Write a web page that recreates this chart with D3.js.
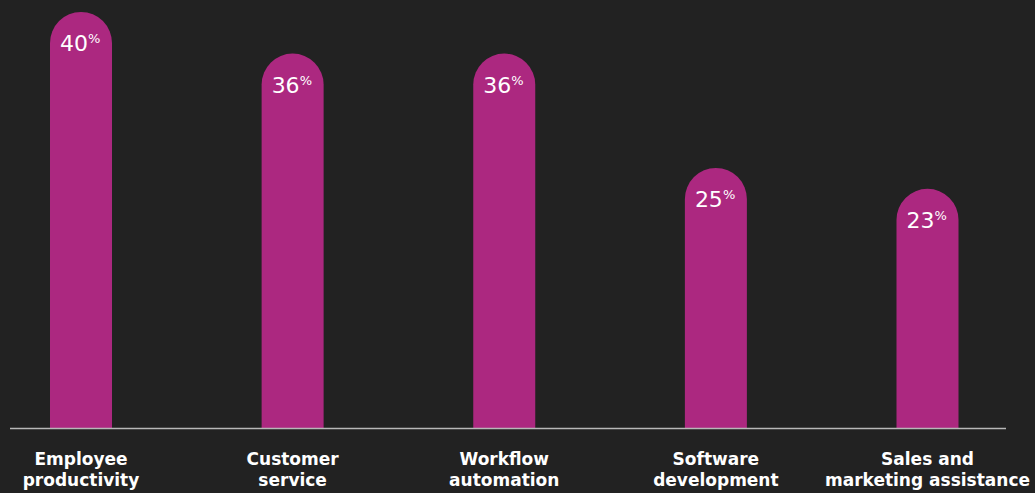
<!DOCTYPE html>
<html>
<head>
<meta charset="utf-8">
<script src="https://cdn.jsdelivr.net/npm/d3@7"></script>
<style>
  html, body { margin: 0; padding: 0; background: #222222; }
  svg { display: block; }
</style>
</head>
<body>
<svg id="chart" width="1035" height="493"></svg>
<script>
const categories = [
  ["Employee", "productivity"],
  ["Customer", "service"],
  ["Workflow", "automation"],
  ["Software", "development"],
  ["Sales and", "marketing assistance"]
];
const values = [40, 36, 36, 25, 23];

const W = 1035, H = 493;
const baseY = 428;
const barW = 62;
const svg = d3.select("#chart");
svg.append("rect").attr("width", W).attr("height", H).attr("fill", "#222222");

const keys = categories.map(d => d.join(" "));
const x = d3.scalePoint().domain(keys).range([81, 927.5]);
const y = d3.scaleLinear().domain([0, 40]).range([baseY, 12]);

const r = barW / 2;
function barPath(cx, top) {
  const x0 = cx - r, x1 = cx + r;
  return `M${x0},${baseY} L${x0},${top + r} A${r},${r} 0 0 1 ${x1},${top + r} L${x1},${baseY} Z`;
}

const g = svg.append("g");
values.forEach((v, i) => {
  const cx = x(keys[i]);
  const top = y(v);
  g.append("path").attr("d", barPath(cx, top)).attr("fill", "#ac2880");
  const t = g.append("text")
    .attr("x", cx - 21).attr("y", top + 39)
    .attr("fill", "#ffffff")
    .attr("font-family", "'DejaVu Sans', sans-serif");
  t.append("tspan").attr("font-size", 22).text(v);
  t.append("tspan").attr("font-size", 13).attr("dy", -8).text("%");
});

svg.append("line")
  .attr("x1", 10).attr("x2", 1006)
  .attr("y1", baseY + 0.5).attr("y2", baseY + 0.5)
  .attr("stroke", "#b8b8b8").attr("stroke-width", 1.5);

categories.forEach((lines, i) => {
  const cx = x(keys[i]);
  const t = svg.append("text")
    .attr("text-anchor", "middle")
    .attr("fill", "#ffffff")
    .attr("font-family", "'DejaVu Sans', sans-serif")
    .attr("font-weight", 700)
    .attr("font-size", 17);
  lines.forEach((ln, j) => {
    t.append("tspan").attr("x", cx).attr("y", 465 + j * 21).text(ln);
  });
});
</script>
</body>
</html>
